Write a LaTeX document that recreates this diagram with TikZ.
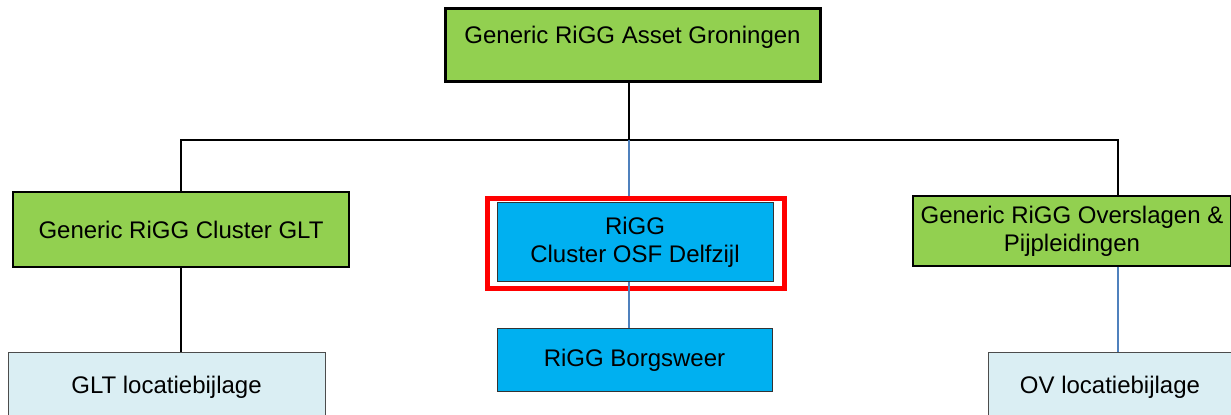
\documentclass[tikz,border=0pt]{standalone}
\usepackage{fontspec}
\setmainfont{Liberation Sans}
\usepackage{xcolor}
\usepackage{tikz}
\usetikzlibrary{positioning, calc}

\definecolor{rigggreen}{HTML}{92D050}
\definecolor{riggblue}{HTML}{00B0F0}
\definecolor{riggpale}{HTML}{DAEEF3}
\definecolor{linkblue}{HTML}{4F81BD}

\begin{document}
\begin{tikzpicture}[
  x=0.5pt, y=-0.5pt,
  box/.style={draw, inner sep=0pt, align=center, font=\fontsize{12}{14}\selectfont},
  generic/.style={box, fill=rigggreen, line width=1pt},
  cluster/.style={box, fill=riggblue, draw=black!80, line width=0.5pt},
  bijlage/.style={box, fill=riggpale, draw=black!70, line width=0.5pt},
  tree/.style={line width=1pt},
  link/.style={line width=0.6pt, draw=linkblue},
]
  \useasboundingbox (0,0) rectangle (1231,415);
  \clip (0,0) rectangle (1231,415);

  % top of the tree
  \node[generic, line width=1.5pt, minimum width=187.5pt, minimum height=36.5pt,
        text depth=11pt]
    (asset) at (632.5,45.5) {Generic RiGG Asset Groningen};
  \coordinate (bar) at (629,140);
  \coordinate (barL) at (181,140);
  \coordinate (barR) at (1118,140);

  % left branch
  \node[generic, minimum width=168pt, minimum height=37.5pt]
    (glt) at (181,229.5) {Generic RiGG Cluster GLT};
  \node[bijlage, minimum width=158.5pt, minimum height=34pt]
    (gltloc) at (166.5,387) {GLT locatiebijlage};

  % middle branch
  \node[draw=red, line width=2.5pt, minimum width=148.5pt, minimum height=45pt]
    (osfframe) at (636,243.5) {};
  \node[cluster, minimum width=138pt, minimum height=39.5pt]
    (osf) at (635,242.5) {RiGG\\Cluster OSF Delfzijl};
  \node[cluster, minimum width=137.5pt, minimum height=31.5pt]
    (borg) at (634.5,360.5) {RiGG Borgsweer};

  % right branch
  \node[generic, line width=0.6pt, minimum width=159pt, minimum height=35pt]
    (ovsl) at (1072,231) {Generic RiGG Overslagen \&\\Pijpleidingen};
  \node[bijlage, minimum width=122pt, minimum height=34pt]
    (ovloc) at (1110,387) {OV locatiebijlage};

  % connectors
  \draw[tree] (bar |- asset.south) -- (bar);
  \draw[tree] (glt.north) |- (barR) -- (barR |- ovsl.north);
  \draw[tree] (glt.south) -- (glt.south |- gltloc.north);
  \draw[link] (bar) -- (bar |- osfframe.north);
  \draw[link] (bar |- osf.south) -- (bar |- borg.north);
  \draw[link] (barR |- ovsl.south) -- (barR |- ovloc.north);
\end{tikzpicture}
\end{document}
